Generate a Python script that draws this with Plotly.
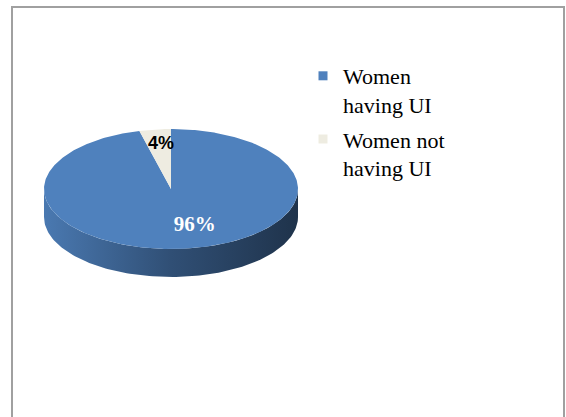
import numpy as np
import plotly.graph_objects as go

# ---- data ----
labels = ["Women having UI", "Women not having UI"]
values = [96, 4]
colors = ["#4F81BD", "#EEECE1"]
label_colors = ["white", "black"]

# ---- page / geometry (pixel units of the page) ----
W, H = 566, 417
CX, CY, RX, RY, DEPTH = 171, 189, 127, 60, 28


def pt(theta_deg, f=1.0):
    t = np.radians(theta_deg)
    return CX + f * RX * np.sin(t), CY - f * RY * np.cos(t)


def shade(hexc, k):
    h = hexc.lstrip("#")
    r, g, b = (int(h[i:i + 2], 16) for i in (0, 2, 4))
    return "rgb(%d,%d,%d)" % (r * k, g * k, b * k)


def px_x(p):  # page pixel -> paper x
    return p / W


def px_y(p):  # page pixel -> paper y
    return 1 - p / H


total = float(sum(values))
angles = np.cumsum([0] + [v / total * 360 for v in values])

fig = go.Figure()

# side band (front half, 90..270 deg clockwise from top)
for i, v in enumerate(values):
    a0, a1 = max(angles[i], 90), min(angles[i + 1], 270)
    if a1 <= a0:
        continue
    th = np.linspace(a0, a1, 120)
    xs, ys = pt(th)
    x = np.concatenate([xs, xs[::-1], xs[:1]])
    y = np.concatenate([ys, ys[::-1] + DEPTH, ys[:1]])
    fig.add_trace(go.Scatter(
        x=x, y=y, mode="lines", fill="toself", line=dict(width=0),
        fillgradient=dict(type="horizontal", start=CX - RX, stop=CX + RX,
                          colorscale=[[0, shade(colors[i], 0.94)],
                                      [0.5, shade(colors[i], 0.62)],
                                      [1, shade(colors[i], 0.40)]]),
        showlegend=False, hoverinfo="skip"))

# top face slices
for i, v in enumerate(values):
    th = np.linspace(angles[i], angles[i + 1], max(8, int(v * 4)))
    xs, ys = pt(th)
    x = np.concatenate([[CX], xs, [CX]])
    y = np.concatenate([[CY], ys, [CY]])
    fig.add_trace(go.Scatter(
        x=x, y=y, mode="lines", fill="toself", line=dict(width=0),
        fillcolor=colors[i], showlegend=False, hoverinfo="skip"))

# percentage labels
label_f = [0.62, 0.75]
label_nudge = [(14, 0), (2, 0)]
fonts = [dict(family="Liberation Serif", size=21, color=label_colors[0]),
         dict(family="Liberation Sans", size=18, color=label_colors[1])]
for i, v in enumerate(values):
    mid = (angles[i] + angles[i + 1]) / 2
    x, y = pt(mid, label_f[i])
    txt = "<b>%d%%</b>" % round(v / total * 100)
    fig.add_trace(go.Scatter(
        x=[x + label_nudge[i][0]], y=[y + label_nudge[i][1]], mode="text",
        text=[txt], textposition="middle center", textfont=fonts[i],
        showlegend=False, hoverinfo="skip"))

# legend entries
for i, lab in enumerate(labels):
    fig.add_trace(go.Scatter(
        x=[None], y=[None], mode="markers", name=lab.replace(" having", "<br>having"),
        marker=dict(symbol="square", size=9, color=colors[i], line=dict(width=0)),
        legendgroup=str(i)))

fig.update_layout(
    width=W, height=H, margin=dict(l=0, r=0, t=0, b=0),
    paper_bgcolor="white", plot_bgcolor="white",
    xaxis=dict(range=[0, W], visible=False, fixedrange=True),
    yaxis=dict(range=[H, 0], visible=False, fixedrange=True),
    legend=dict(x=px_x(303), y=px_y(55), xanchor="left", yanchor="top",
                font=dict(family="Liberation Serif", size=22, color="black"),
                valign="top", tracegroupgap=3, traceorder="grouped",
                itemwidth=30, bgcolor="rgba(0,0,0,0)"),
    shapes=[dict(type="rect", xref="paper", yref="paper",
                 x0=px_x(12), x1=px_x(564), y0=px_y(H + 5), y1=px_y(7),
                 line=dict(color="#A0A0A0", width=2), layer="below")],
)

fig.write_html(
    "out.html",
    config={"displayModeBar": False},
    post_script="document.body.style.margin='0';document.body.style.overflow='hidden';",
)
